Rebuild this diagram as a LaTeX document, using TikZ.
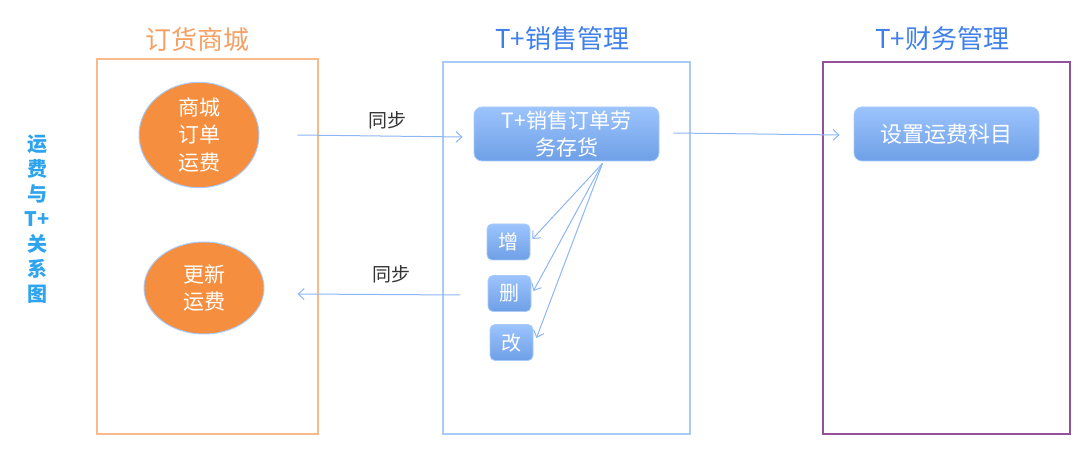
\documentclass[tikz,border=0pt]{standalone}
\usepackage{fontspec}
\setmainfont{Noto Sans CJK SC}
\usetikzlibrary{shapes.geometric,arrows.meta}
\definecolor{oline}{HTML}{F9B98A}
\definecolor{ofill}{HTML}{F58E3E}
\definecolor{otitle}{HTML}{F5A064}
\definecolor{bline}{HTML}{A9CBF9}
\definecolor{btitle}{HTML}{3F7FE8}
\definecolor{pline}{HTML}{93519A}
\definecolor{btop}{HTML}{9CC4FD}
\definecolor{bbot}{HTML}{6E9FE6}
\definecolor{arr}{HTML}{8DB6F5}
\definecolor{lblue}{HTML}{2FA4EE}
\definecolor{lab}{HTML}{333333}
\tikzset{
  panel/.style={draw=#1, line width=1.2pt},
  ttl/.style={text=#1, font=\fontsize{26}{30}\selectfont, inner sep=0pt},
  ell/.style={ellipse, fill=ofill, draw=bline, line width=1pt, minimum width=120pt, minimum height=92pt, text=white, align=center, font=\fontsize{21}{27.5}\selectfont, inner sep=0pt},
  bbox/.style={rounded corners=8pt, top color=btop, bottom color=bbot, draw=bline, line width=0.8pt, text=white, align=center, inner sep=0pt},
  sbox/.style={rounded corners=5pt, top color=btop, bottom color=bbot, draw=bline, line width=0.8pt, text=white, minimum width=43pt, minimum height=36pt, inner sep=0pt, font=\fontsize{20}{24}\selectfont},
  conn/.style={draw=arr, line width=1pt, -{Straight Barb[length=6pt,width=11pt]}},
  lbl/.style={text=lab, font=\fontsize{19}{22}\selectfont, inner sep=0pt}
}
\begin{document}
\begin{tikzpicture}[x=1pt,y=-1pt]
\useasboundingbox (0,0) rectangle (1080,462);
% panels
\draw[panel=oline] (97,59) rectangle (318,434);
\draw[panel=bline] (443,62) rectangle (690,434);
\draw[panel=pline] (823,62) rectangle (1070,434);
% titles
\node[ttl=otitle] (t1) at (197,40) {订货商城};
\node[ttl=btitle] (t2) at (562,39) {T+销售管理};
\node[ttl=btitle] (t3) at (942,39) {T+财务管理};
% left vertical label
\node[text=lblue, font=\fontsize{20}{25}\selectfont\bfseries, align=center, inner sep=0pt] (side) at (37,219) {运\\费\\与\\T+\\关\\系\\图};
% ellipses
\node[ell] (e1) at (199,135) {商城\\订单\\运费};
\node[ell] (e2) at (204,288) {更新\\运费};
% boxes
\node[bbox, minimum width=185pt, minimum height=54pt, font=\fontsize{21}{27}\selectfont] (sales) at (566.5,134) {T+销售订单劳\\务存货};
\node[bbox, minimum width=185pt, minimum height=54pt, font=\fontsize{22}{26}\selectfont] (acct) at (946.5,134) {设置运费科目};
\node[sbox] (add) at (508.5,242) {增};
\node[sbox] (del) at (509.5,293.5) {删};
\node[sbox] (mod) at (511.5,342.5) {改};
% labels
\node[lbl] (s1) at (387,120) {同步};
\node[lbl] (s2) at (391,274) {同步};
% connectors
\draw[conn] ([xshift=38pt]e1.east) -- ([xshift=-11pt,yshift=-3pt]sales.west);
\draw[conn] ([xshift=14pt,yshift=1pt]sales.east) -- ([xshift=-14pt,yshift=-1pt]acct.west);
\coordinate (bs) at (460,295);
\draw[conn] (bs) -- ([xshift=33pt,yshift=-6pt]e2.east);
\coordinate (fan) at ([xshift=36pt,yshift=-2pt]sales.south);
\draw[conn] (fan) -- ([xshift=2pt,yshift=3pt]add.east);
\draw[conn] (fan) -- ([xshift=2pt,yshift=2.5pt]del.east);
\draw[conn] (fan) -- ([xshift=3pt,yshift=4.5pt]mod.east);
\end{tikzpicture}
\end{document}
